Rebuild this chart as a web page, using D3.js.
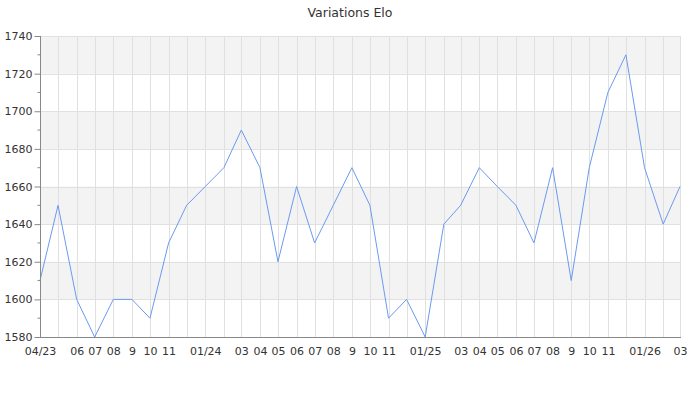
<!DOCTYPE html>
<html><head><meta charset="utf-8">
<script src="https://cdn.jsdelivr.net/npm/d3@7"></script>
<style>body{margin:0;background:#fff}svg{display:block}</style>
</head><body>
<svg id="c" width="700" height="400"></svg>
<script>
const months = ["2023-04","2023-05","2023-06","2023-07","2023-08","2023-09","2023-10","2023-11","2023-12",
"2024-01","2024-02","2024-03","2024-04","2024-05","2024-06","2024-07","2024-08","2024-09","2024-10","2024-11","2024-12",
"2025-01","2025-02","2025-03","2025-04","2025-05","2025-06","2025-07","2025-08","2025-09","2025-10","2025-11","2025-12",
"2026-01","2026-02","2026-03"];
const elo = [1610,1650,1600,1580,1600,1600,1590,1630,1650,
1660,1670,1690,1670,1620,1660,1630,1650,1670,1650,1590,1600,
1580,1640,1650,1670,1660,1650,1630,1670,1610,1670,1710,1730,
1670,1640,1660];
const tickLabels = ["04/23","","06","07","08","9","10","11","",
"01/24","","03","04","05","06","07","08","9","10","11","",
"01/25","","03","04","05","06","07","08","9","10","11","",
"01/26","","03"];
const yTicks = [1580,1600,1620,1640,1660,1680,1700,1720,1740];
const title = "Variations Elo";

const parse = d3.timeParse("%Y-%m");
const dates = months.map(parse);
const svg = d3.select("#c");
const L=40,R=680,T=36,B=337;
const x = d3.scaleTime().domain([dates[0],dates[dates.length-1]]).range([L,R]);
const y = d3.scaleLinear().domain([1580,1740]).range([B,T]);
const font = "DejaVu Sans, sans-serif";

const bands = [];
for(let i=1;i<yTicks.length;i+=2) bands.push([yTicks[i],yTicks[i+1]]);
svg.selectAll("rect.band").data(bands).enter().append("rect")
  .attr("x",L).attr("width",R-L)
  .attr("y",d=>y(d[1])).attr("height",d=>y(d[0])-y(d[1]))
  .attr("fill","#f3f3f3");

svg.selectAll("line.h").data(yTicks).enter().append("line")
  .attr("x1",L).attr("x2",R).attr("y1",d=>Math.round(y(d))+0.5).attr("y2",d=>Math.round(y(d))+0.5)
  .attr("stroke","#e0e0e0");
svg.selectAll("line.v").data(dates).enter().append("line")
  .attr("y1",T).attr("y2",B).attr("x1",d=>Math.round(x(d))+0.5).attr("x2",d=>Math.round(x(d))+0.5)
  .attr("stroke","#e0e0e0");

svg.append("path").datum(elo)
  .attr("fill","none").attr("stroke","#6b9af0").attr("stroke-width",1)
  .attr("d",d3.line().x((d,i)=>x(dates[i])).y(d=>y(d)));

const ya = svg.append("g").attr("transform",`translate(${L+0.5},0)`)
  .call(d3.axisLeft(y).tickValues(yTicks).tickSize(6).tickPadding(2).tickFormat(d3.format("d")));
ya.select(".domain").attr("stroke","#888").attr("d",`M0,${T}V${B+0.5}`);
ya.selectAll(".tick line").attr("stroke","#888");
ya.selectAll("text").attr("font-family",font).attr("font-size",11).attr("fill","#333");
const minor = d3.range(1590,1740,20);
ya.selectAll("line.minor").data(minor).enter().append("line")
  .attr("x1",-3).attr("x2",0).attr("y1",d=>y(d)).attr("y2",d=>y(d)).attr("stroke","#888");

const xa = svg.append("g").attr("transform",`translate(0,${B+0.5})`)
  .call(d3.axisBottom(x).tickValues(dates).tickSize(0).tickPadding(10)
    .tickFormat((d,i)=>tickLabels[i]));
xa.select(".domain").attr("stroke","#888").attr("d",`M${L},0H${R+1}`);
xa.selectAll("text").attr("font-family",font).attr("font-size",11).attr("fill","#333");

svg.append("text").attr("x",350).attr("y",16.5).attr("text-anchor","middle")
  .attr("font-family",font).attr("font-size",12.5).attr("fill","#333").text(title);
</script>
</body></html>
